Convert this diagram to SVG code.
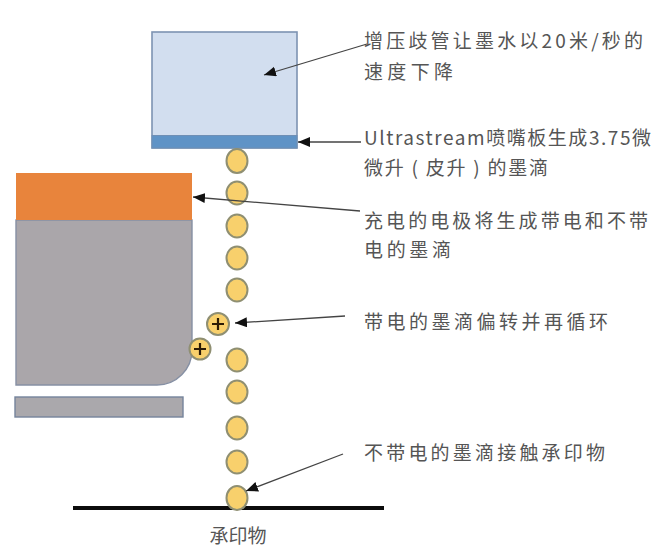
<svg xmlns="http://www.w3.org/2000/svg" width="667" height="553" viewBox="0 0 667 553">
<style>
text{font-family:"Noto Sans CJK SC","Noto Sans",sans-serif;font-size:19px;fill:#555;font-weight:400}
.drop{fill:#f8d06c;stroke:#8f8f72;stroke-width:2}
.plus{stroke:#2a1a05;stroke-width:2.2;fill:none}
.arrow{stroke:#444;stroke-width:1.3;fill:none;marker-end:url(#ah)}
</style>
<defs>
<marker id="ah" markerUnits="userSpaceOnUse" markerWidth="14" markerHeight="12" refX="12" refY="5" orient="auto"><path d="M0 0L12 5L0 10Z" fill="#111"/></marker>
</defs>
<rect width="667" height="553" fill="#fff"/>
<g id="manifold">
<rect x="152" y="32" width="145" height="116" fill="#d2deef" stroke="#7d93b2" stroke-width="1.6"/>
</g>
<g id="nozzle-plate">
<rect x="152" y="135.500" width="145" height="12.500" fill="#5f93c6" stroke="#6f8fb5" stroke-width="1"/>
</g>
<g id="catcher">
<path d="M16 220H192V350A35 35 0 0 1 157 385H16Z" fill="#aaa6aa" stroke="#8690a4" stroke-width="1.400"/>
</g>
<g id="electrode">
<rect x="16" y="173" width="176" height="47" fill="#e8843c"/>
</g>
<g id="lower-plate">
<rect x="15" y="397" width="168" height="20" fill="#aaa8ac" stroke="#75849c" stroke-width="1.400"/>
</g>
<g id="substrate">
<line x1="73" y1="508" x2="384" y2="508" stroke="#0c0c0c" stroke-width="4"/>
<text x="238" y="543" text-anchor="middle">承印物</text>
</g>
<g id="drops">
<ellipse class="drop" cx="237" cy="161" rx="10.500" ry="12"/>
<ellipse class="drop" cx="237" cy="193" rx="10.500" ry="11.500"/>
<ellipse class="drop" cx="237" cy="226" rx="10.500" ry="11.500"/>
<ellipse class="drop" cx="237" cy="258" rx="10.500" ry="11.500"/>
<ellipse class="drop" cx="237" cy="290" rx="10.500" ry="11.500"/>
<ellipse class="drop" cx="237" cy="360" rx="10.500" ry="11.500"/>
<ellipse class="drop" cx="237" cy="392" rx="10.500" ry="11.500"/>
<ellipse class="drop" cx="237" cy="428" rx="10.500" ry="11.500"/>
<ellipse class="drop" cx="237" cy="462" rx="10.500" ry="11.500"/>
<ellipse class="drop" cx="237" cy="498" rx="10.500" ry="12"/>
</g>
<g id="charged-drop-1">
<circle class="drop" cx="218" cy="324" r="11"/>
<path class="plus" d="M212 324H224M218 318V330"/>
</g>
<g id="charged-drop-2">
<circle class="drop" cx="200" cy="349" r="10.500"/>
<path class="plus" d="M194 349H206M200 343V355"/>
</g>
<g id="connectors">
<line class="arrow" x1="367" y1="44" x2="264" y2="75"/>
<line class="arrow" x1="361" y1="142" x2="298" y2="142"/>
<line class="arrow" x1="360" y1="211" x2="193" y2="197"/>
<line class="arrow" x1="345" y1="316" x2="235" y2="323"/>
<line class="arrow" x1="343" y1="454" x2="246" y2="491"/>
</g>
<g id="labels">
<text x="364" y="48" textLength="279" lengthAdjust="spacing">增压歧管让墨水以20米/秒的</text>
<text x="364" y="79" textLength="89" lengthAdjust="spacing">速度下降</text>
<text x="364" y="145" textLength="287" lengthAdjust="spacing">Ultrastream喷嘴板生成3.75微</text>
<text x="364" y="175" textLength="184" lengthAdjust="spacing">微升 ( 皮升 ) 的墨滴</text>
<text x="364" y="228" textLength="284" lengthAdjust="spacing">充电的电极将生成带电和不带</text>
<text x="364" y="257" textLength="87" lengthAdjust="spacing">电的墨滴</text>
<text x="364" y="329" textLength="244" lengthAdjust="spacing">带电的墨滴偏转并再循环</text>
<text x="364" y="460" textLength="241" lengthAdjust="spacing">不带电的墨滴接触承印物</text>
</g>
</svg>
